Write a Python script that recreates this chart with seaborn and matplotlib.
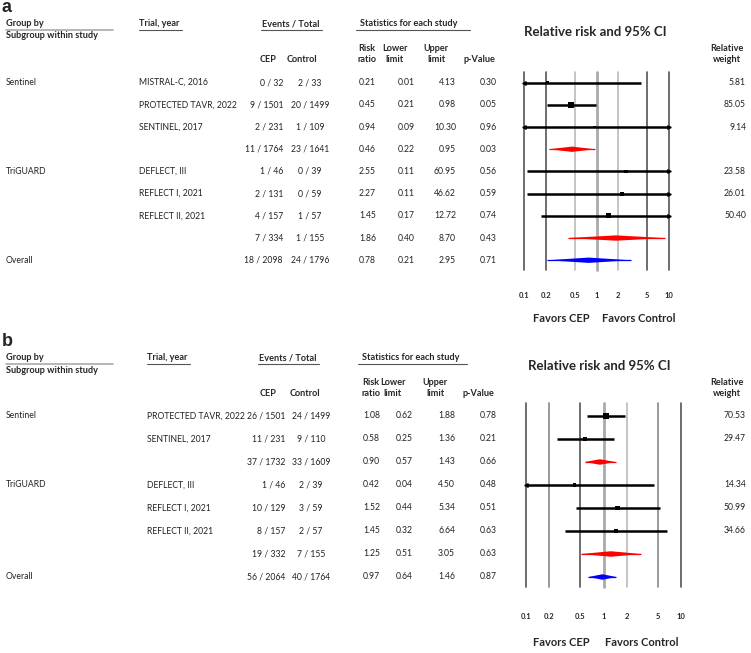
import numpy as np
import pandas as pd
import matplotlib
matplotlib.use("Agg")
import matplotlib.pyplot as plt
import matplotlib.transforms as mtransforms
from matplotlib.lines import Line2D
from matplotlib.patches import Polygon
import seaborn as sns

# Panel a data
groups_a = ["Sentinel", "", "", "", "TriGUARD", "", "", "", "Overall"]
trials_a = ["MISTRAL-C, 2016", "PROTECTED TAVR, 2022", "SENTINEL, 2017", "",
            "DEFLECT, III", "REFLECT I, 2021", "REFLECT II, 2021", "", ""]
cep_a = ["0 / 32", "9 / 1501", "2 / 231", "11 / 1764", "1 / 46", "2 / 131", "4 / 157", "7 / 334", "18 / 2098"]
ctrl_a = ["2 / 33", "20 / 1499", "1 / 109", "23 / 1641", "0 / 39", "0 / 59", "1 / 57", "1 / 155", "24 / 1796"]
rr_a = [0.21, 0.45, 0.94, 0.46, 2.55, 2.27, 1.45, 1.86, 0.78]
lo_a = [0.01, 0.21, 0.09, 0.22, 0.11, 0.11, 0.17, 0.40, 0.21]
hi_a = [4.13, 0.98, 10.30, 0.95, 60.95, 46.62, 12.72, 8.70, 2.95]
p_a = [0.30, 0.05, 0.96, 0.03, 0.56, 0.59, 0.74, 0.43, 0.71]
w_a = [5.81, 85.05, 9.14, np.nan, 23.58, 26.01, 50.40, np.nan, np.nan]
kind_a = ["study", "study", "study", "sub", "study", "study", "study", "sub", "overall"]

# Panel b data
groups_b = ["Sentinel", "", "", "TriGUARD", "", "", "", "Overall"]
trials_b = ["PROTECTED TAVR, 2022", "SENTINEL, 2017", "", "DEFLECT, III",
            "REFLECT I, 2021", "REFLECT II, 2021", "", ""]
cep_b = ["26 / 1501", "11 / 231", "37 / 1732", "1 / 46", "10 / 129", "8 / 157", "19 / 332", "56 / 2064"]
ctrl_b = ["24 / 1499", "9 / 110", "33 / 1609", "2 / 39", "3 / 59", "2 / 57", "7 / 155", "40 / 1764"]
rr_b = [1.08, 0.58, 0.90, 0.42, 1.52, 1.45, 1.25, 0.97]
lo_b = [0.62, 0.25, 0.57, 0.04, 0.44, 0.32, 0.51, 0.64]
hi_b = [1.88, 1.36, 1.43, 4.50, 5.34, 6.64, 3.05, 1.46]
p_b = [0.78, 0.21, 0.66, 0.48, 0.51, 0.63, 0.63, 0.87]
w_b = [70.53, 29.47, np.nan, 14.34, 50.99, 34.66, np.nan, np.nan]
kind_b = ["study", "study", "sub", "study", "study", "study", "sub", "overall"]

ticks = [0.1, 0.2, 0.5, 1, 2, 5, 10]
tick_labels = ["0.1", "0.2", "0.5", "1", "2", "5", "10"]

sns.set_theme(style="white")
plt.rcParams['font.family'] = ['Lato', 'DejaVu Sans']

W, H = 751, 653
fig = plt.figure(figsize=(W / 100, H / 100), dpi=100)


def fx(px):
    return px / W


def fy(py):
    return 1 - py / H


def underline(x0, x1, y, color="#555555", lw=0.8):
    fig.add_artist(Line2D([fx(x0), fx(x1)], [fy(y), fy(y)], transform=fig.transFigure,
                          color=color, lw=lw))


def draw_panel(letter, df, lay):
    off = lay["off"]
    hs = 6.6   # header size
    fs = 6.2   # body size
    tc = "#222222"
    # headers
    fig.text(fx(2), fy(8 + off), letter, fontsize=13, fontweight="bold",
             family="Liberation Sans", va="center")
    fig.text(fx(6), fy(24 + off), "Group by", fontsize=hs, fontweight="bold", va="center")
    underline(6, 113, 30 + off, color="#aaaaaa", lw=1.2)
    fig.text(fx(6), fy(36 + off), "Subgroup within study", fontsize=hs, fontweight="bold", va="center")
    fig.text(fx(lay["trial"]), fy(24 + off), "Trial, year", fontsize=hs, fontweight="bold", va="center")
    underline(lay["trial"], lay["trial"] + 43, 30 + off)
    fig.text(fx(lay["ev"]), fy(24 + off), "Events / Total", fontsize=hs, fontweight="bold",
             va="center", ha="center")
    underline(lay["ev"] - 30, lay["ev"] + 31, 30 + off)
    fig.text(fx(lay["st0"]), fy(24 + off), "Statistics for each study", fontsize=hs, fontweight="bold",
             va="center")
    underline(lay["st0"] - 4, lay["st1"], 30 + off)
    fig.text(fx(lay["title"]), fy(32 + off), "Relative risk and 95% CI", fontsize=9.5,
             fontweight="bold", va="center", ha="center")
    fig.text(fx(268), fy(60 + off), "CEP", fontsize=hs, fontweight="bold", va="center", ha="center")
    fig.text(fx(lay["ctrl_h"]), fy(60 + off), "Control", fontsize=hs, fontweight="bold", va="center", ha="center")
    fig.text(fx(lay["rr_h"]), fy(54 + off), "Risk\nratio", fontsize=hs, fontweight="bold", va="center",
             linespacing=1.3)
    fig.text(fx(lay["lo_h"]), fy(54 + off), "Lower\nlimit", fontsize=hs, fontweight="bold", va="center",
             ha="center", linespacing=1.3)
    fig.text(fx(lay["hi_h"]), fy(54 + off), "Upper\nlimit", fontsize=hs, fontweight="bold", va="center",
             ha="center", linespacing=1.3)
    fig.text(fx(lay["p_h"]), fy(60 + off), "p-Value", fontsize=hs, fontweight="bold", va="center", ha="center")
    fig.text(fx(727), fy(54 + off), "Relative\nweight", fontsize=hs, fontweight="bold", va="center",
             ha="center", linespacing=1.3)

    # forest axes
    x0, x1, y0, y1 = lay["box"]
    ax = fig.add_axes([fx(x0), fy(y1), (x1 - x0) / W, (y1 - y0) / H])
    ax.set_xscale("log")
    ax.set_xlim(0.1, 10)
    ax.set_ylim(lay["ylim"])
    for s in ax.spines.values():
        s.set_visible(False)
    ax.set_yticks([])
    ax.set_xticks(ticks)
    ax.set_xticklabels(tick_labels, fontsize=5.5, fontweight="bold")
    ax.minorticks_off()
    ax.tick_params(axis="x", length=0, pad=lay["pad"])
    for v, c in zip(ticks, lay["grid"]):
        lw = 2.0 if v == 1 else 1.2
        ax.axvline(v, color=c, lw=lw, clip_on=False, zorder=1)

    studies = df[df["kind"] == "study"]
    for _, r in studies.iterrows():
        a, b = max(r["lo"], 0.1), min(r["hi"], 10)
        ax.hlines(r["row"], a, b, color="black", lw=1.8, zorder=3)
        if r["lo"] < 0.1:
            ax.plot(0.1, r["row"], marker="<", ms=2.5, color="black", clip_on=False, zorder=4)
        if r["hi"] > 10:
            ax.plot(10, r["row"], marker=">", ms=2.5, color="black", clip_on=False, zorder=4)
    sns.scatterplot(data=studies, x="rr", y="row", size="w", sizes=(2, 20), size_norm=(0, 90),
                    marker="s", color="black", edgecolor="black", linewidth=0, legend=False,
                    ax=ax, zorder=5)
    for _, r in df[df["kind"] != "study"].iterrows():
        col = "red" if r["kind"] == "sub" else "blue"
        a, b = max(r["lo"], 0.1), min(r["hi"], 10)
        h = 0.12
        ax.add_patch(Polygon([(a, r["row"]), (r["rr"], r["row"] - h), (b, r["row"]),
                              (r["rr"], r["row"] + h)], closed=True, color=col, lw=0, zorder=4))
        ax.hlines(r["row"], a, b, color=col, lw=0.9, zorder=4)
    ax.set_xlabel("")
    ax.set_ylabel("")

    fig.text(fx(lay["fav_c"]), fy(lay["fav_y"]), "Favors CEP", fontsize=8, fontweight="bold",
             ha="right", va="center")
    fig.text(fx(lay["fav_t"]), fy(lay["fav_y"]), "Favors Control", fontsize=8, fontweight="bold",
             ha="left", va="center")

    # table text on same rows
    tr = mtransforms.blended_transform_factory(fig.transFigure, ax.transData)
    for _, r in df.iterrows():
        y = r["row"]
        ax.text(fx(6), y, r["group"], transform=tr, fontsize=fs, va="center", color=tc)
        ax.text(fx(lay["trial"]), y, r["trial"], transform=tr, fontsize=fs, va="center", color=tc)
        ax.text(fx(lay["cep"]), y, r["cep"], transform=tr, fontsize=fs, va="center", ha="right", color=tc)
        ax.text(fx(lay["ctrl"]), y, r["ctrl"], transform=tr, fontsize=fs, va="center", ha="center", color=tc)
        ax.text(fx(lay["rr"]), y, f"{r['rr']:.2f}", transform=tr, fontsize=fs, va="center", ha="right", color=tc)
        ax.text(fx(lay["lo"]), y, f"{r['lo']:.2f}", transform=tr, fontsize=fs, va="center", ha="right", color=tc)
        ax.text(fx(lay["hi"]), y, f"{r['hi']:.2f}", transform=tr, fontsize=fs, va="center", ha="right", color=tc)
        ax.text(fx(lay["p"]), y, f"{r['p']:.2f}", transform=tr, fontsize=fs, va="center", ha="right", color=tc)
        if not np.isnan(r["w"]):
            ax.text(fx(746), y, f"{r['w']:.2f}", transform=tr, fontsize=fs, va="center", ha="right", color=tc)


def make_df(groups, trials, cep, ctrl, rr, lo, hi, p, w, kind):
    return pd.DataFrame({"row": np.arange(len(rr)), "group": groups, "trial": trials, "cep": cep,
                         "ctrl": ctrl, "rr": rr, "lo": lo, "hi": hi, "p": p, "w": w, "kind": kind})


df_a = make_df(groups_a, trials_a, cep_a, ctrl_a, rr_a, lo_a, hi_a, p_a, w_a, kind_a)
df_b = make_df(groups_b, trials_b, cep_b, ctrl_b, rr_b, lo_b, hi_b, p_b, w_b, kind_b)

dark, mid, light, one = "#555555", "#888888", "#bbbbbb", "#aaaaaa"
lay_a = dict(off=0, trial=139, ev=291, st0=360, st1=470, title=595, ctrl_h=302, rr_h=358, lo_h=395,
             hi_h=436, p_h=479, box=(524, 669, 72, 270), ylim=(8.44, -0.48), pad=16,
             grid=[dark, dark, light, one, light, dark, dark],
             fav_c=590, fav_t=602, fav_y=319, cep=283, ctrl=310, rr=376, lo=415, hi=456, p=497)
lay_b = dict(off=334, trial=147, ev=288, st0=362, st1=467, title=599, ctrl_h=305, rr_h=362, lo_h=393,
             hi_h=435, p_h=478, box=(526, 681, 403, 587), ylim=(7.435, -0.565), pad=19,
             grid=[dark, mid, dark, one, light, mid, dark],
             fav_c=590, fav_t=605, fav_y=643, cep=285, ctrl=311, rr=380, lo=413, hi=455, p=497)

draw_panel("a", df_a, lay_a)
draw_panel("b", df_b, lay_b)

fig.savefig("out.png", dpi=100)
